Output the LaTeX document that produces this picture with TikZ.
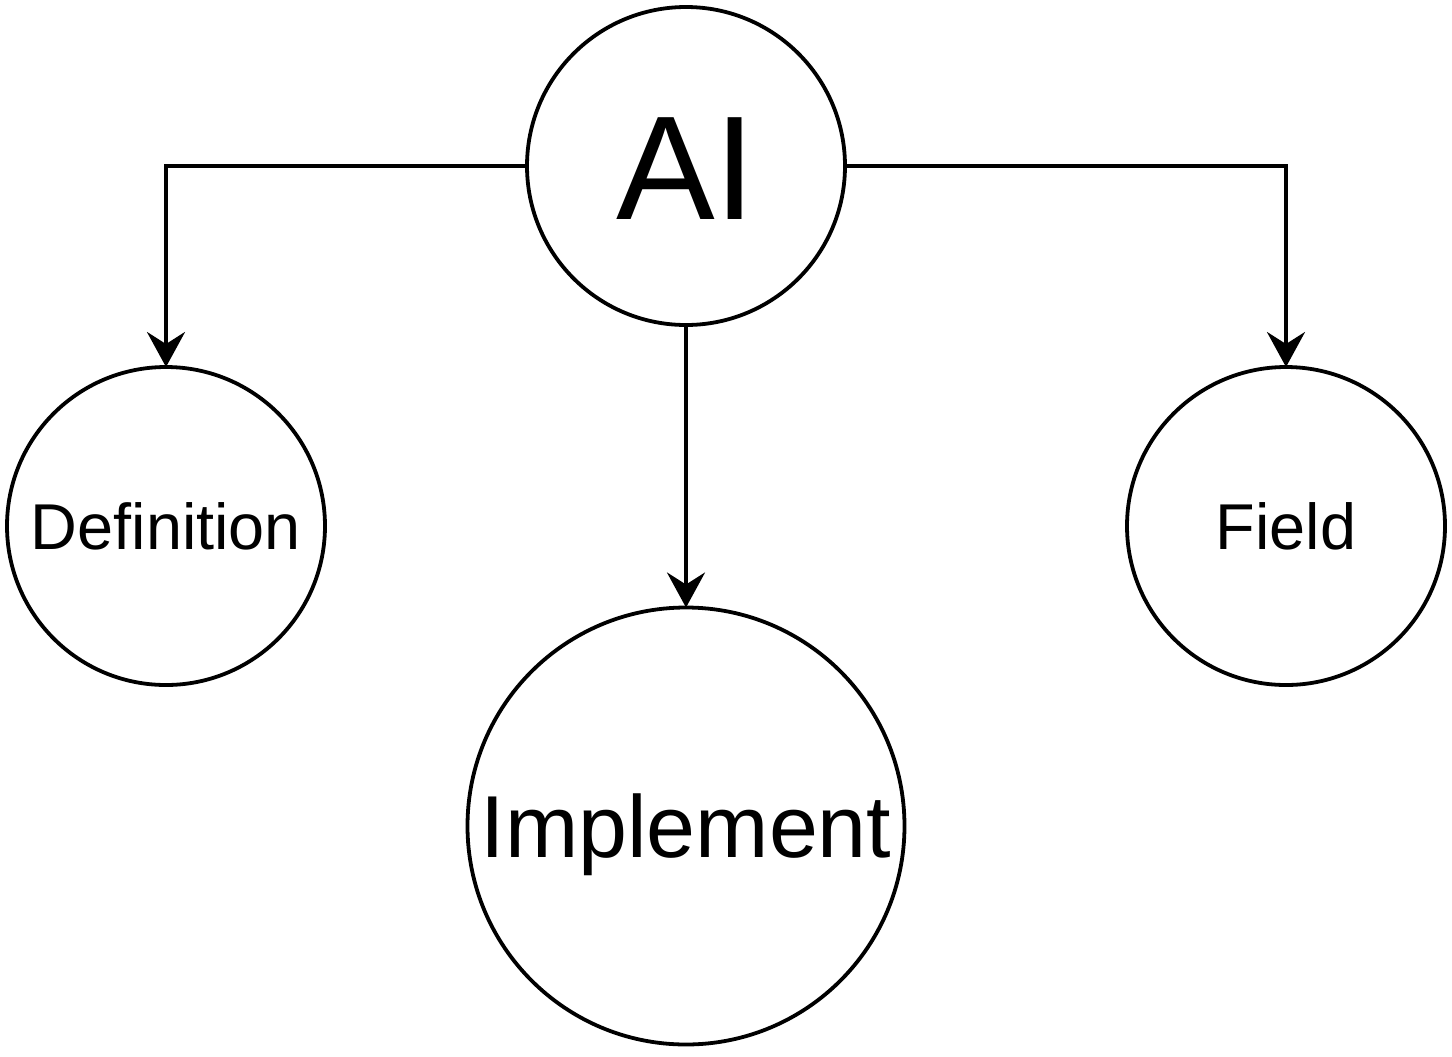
\documentclass[tikz,border=0pt]{standalone}
\usepackage{fontspec}
\setmainfont{Liberation Sans}
\usetikzlibrary{arrows.meta}
\begin{document}
\begin{tikzpicture}[x=0.5pt,y=-0.5pt,
  circ/.style={draw, circle, line width=1.9pt, inner sep=0pt, outer sep=0pt, text depth=0pt},
  arr/.style={line width=1.9pt, -{Stealth[length=17.5pt,width=19pt,inset=6pt]}}]
\useasboundingbox (0,0) rectangle (1452,1056);
\node[circ, minimum size=159pt, text height=53pt, font=\fontsize{74pt}{80pt}\selectfont] (ai) at (686,166) {AI};
\node[circ, minimum size=159pt, text height=23.2pt, font=\fontsize{32.4pt}{38pt}\selectfont] (def) at (166,526) {Definition};
\node[circ, minimum size=159pt, text height=23.2pt, font=\fontsize{32.4pt}{38pt}\selectfont] (field) at (1286,526) {Field};
\node[circ, minimum size=218.5pt, text height=31.5pt, font=\fontsize{44pt}{50pt}\selectfont] (impl) at (686,826) {Implement};
\draw[arr] (ai.west) -| (def.north);
\draw[arr] (ai.east) -| (field.north);
\draw[arr] (ai.south) -- (impl.north);
\end{tikzpicture}
\end{document}
